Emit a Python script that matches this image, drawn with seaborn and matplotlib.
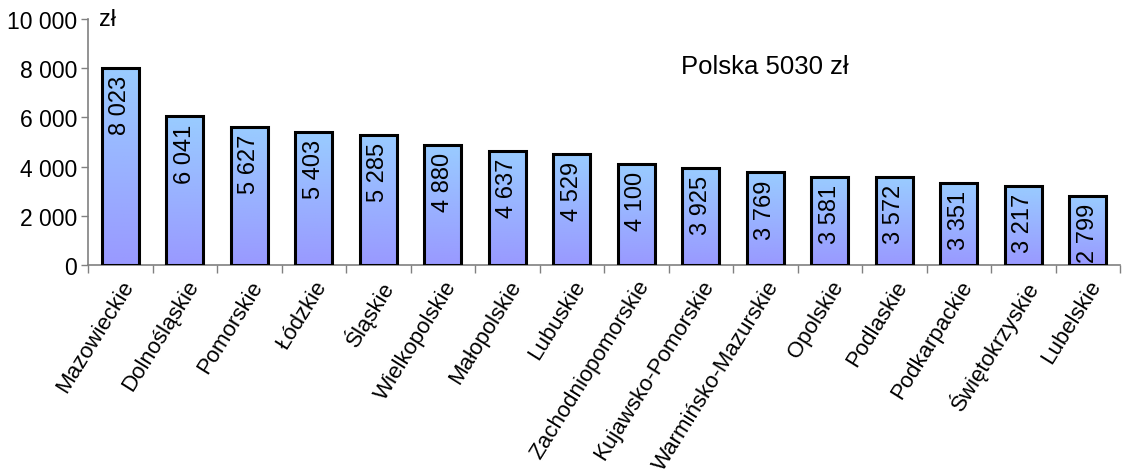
import numpy as np
import pandas as pd
import matplotlib
matplotlib.use("Agg")
import matplotlib.pyplot as plt
import seaborn as sns
from matplotlib.colors import LinearSegmentedColormap

# dane: przeciętne wynagrodzenie wg województw
regions = ["Mazowieckie", "Dolnośląskie", "Pomorskie", "Łódzkie", "Śląskie",
           "Wielkopolskie", "Małopolskie", "Lubuskie", "Zachodniopomorskie",
           "Kujawsko-Pomorskie", "Warmińsko-Mazurskie", "Opolskie", "Podlaskie",
           "Podkarpackie", "Świętokrzyskie", "Lubelskie"]
values = [8023, 6041, 5627, 5403, 5285, 4880, 4637, 4529, 4100,
          3925, 3769, 3581, 3572, 3351, 3217, 2799]
poland_avg = 5030

df = pd.DataFrame({"region": regions, "value": values})

sns.set_style("white")
plt.rcParams["font.family"] = ["Liberation Sans", "DejaVu Sans"]
plt.rcParams["text.color"] = "black"
plt.rcParams["xtick.labelcolor"] = "black"
plt.rcParams["ytick.labelcolor"] = "black"

fig = plt.figure(figsize=(11.28, 4.77), dpi=100)
ax = fig.add_axes([88 / 1128, 1 - 266 / 477, (1120 - 88) / 1128, (266 - 20) / 477])

sns.barplot(data=df, x="region", y="value", ax=ax, width=0.57,
            color="white", edgecolor="black", linewidth=2.2, saturation=1)

# gradient inside each bar (blue-violet at bottom, light blue at top)
cmap = LinearSegmentedColormap.from_list("grad", ["#9999ff", "#99ccff"])
grad = np.linspace(0, 1, 256).reshape(-1, 1)
for p in ax.patches:
    x0, y0 = p.get_x(), p.get_y()
    w, h = p.get_width(), p.get_height()
    p.set_facecolor("none")
    p.set_zorder(3)
    ax.imshow(grad, cmap=cmap, aspect="auto", origin="lower",
              extent=[x0, x0 + w, y0, y0 + h], zorder=2)

for i, v in enumerate(values):
    lab = f"{v:,}".replace(",", " ")
    ax.text(i, v - 280, lab, rotation=90, ha="center", va="top",
            fontsize=17, color="black", zorder=4)

ax.set_xlim(-0.5, len(regions) - 0.5)
ax.set_ylim(0, 10000)
ax.set_yticks(range(0, 10001, 2000))
ax.set_yticklabels([f"{t:,}".replace(",", " ") for t in range(0, 10001, 2000)],
                   fontsize=16.5, color="black")
ax.set_xticks(range(len(regions)))
ax.set_xticklabels(regions, rotation=58, ha="right", rotation_mode="anchor",
                   fontsize=16, color="black")
ax.set_xlabel("")
ax.set_ylabel("")

# ticks between categories on x axis
ax.set_xticks(np.arange(-0.5, len(regions), 1), minor=True)
ax.tick_params(axis="x", which="major", length=0, pad=8)
ax.tick_params(axis="x", which="minor", length=6, width=1, color="#808080",
               direction="out", bottom=True)
ax.tick_params(axis="y", length=5, width=1, color="#808080", direction="out",
               left=True, pad=3)

for s in ["top", "right"]:
    ax.spines[s].set_visible(False)
for s in ["left", "bottom"]:
    ax.spines[s].set_color("#808080")
    ax.spines[s].set_linewidth(1.2)

ax.text(-0.2, 10000, "zł", fontsize=17, va="center", ha="center", color="black")
ax.text(10.0, 8090, f"Polska {poland_avg} zł", fontsize=18.5, ha="center",
        va="center", color="black")

fig.savefig("out.png", dpi=100)
